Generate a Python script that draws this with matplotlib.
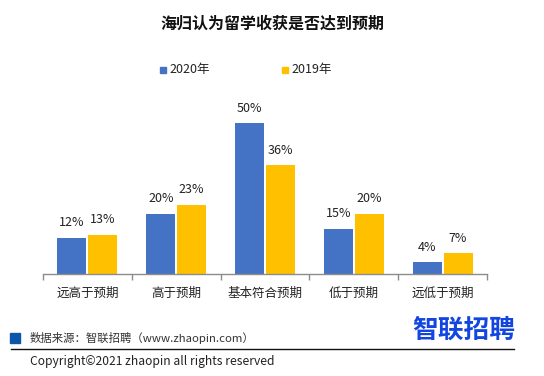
import matplotlib
matplotlib.use("Agg")
import matplotlib.pyplot as plt
import numpy as np

plt.rcParams['font.family'] = ['Noto Sans CJK SC', 'DejaVu Sans']

# data
categories = ['远高于预期', '高于预期', '基本符合预期', '低于预期', '远低于预期']
series_names = ['2020年', '2019年']
vals_2020 = [12, 20, 50, 15, 4]
vals_2019 = [13, 23, 36, 20, 7]
colors = ['#4472C4', '#FFC000']

W, H = 544, 376
fig = plt.figure(figsize=(W / 100, H / 100), dpi=100)

# plot area: x 43..487, y 100..274 (pixels from top)
ax = fig.add_axes([43 / W, (H - 274) / H, (487 - 43) / W, (274 - 100) / H])

x = np.arange(len(categories))
bw = 0.326
off = 0.174
b1 = ax.bar(x - off, vals_2020, bw, color=colors[0])
b2 = ax.bar(x + off, vals_2019, bw, color=colors[1])

for bars, vals in ((b1, vals_2020), (b2, vals_2019)):
    for rect, v in zip(bars, vals):
        ax.annotate(f'{v}%', (rect.get_x() + rect.get_width() / 2, v),
                    xytext=(0, 6), textcoords='offset points',
                    ha='center', va='bottom', fontsize=9, color='#222222')

ax.set_xlim(-0.5, len(categories) - 0.5)
ax.set_ylim(0, 57.6)
ax.set_yticks([])
for s in ['top', 'right', 'left']:
    ax.spines[s].set_visible(False)
ax.spines['bottom'].set_color('#8c8c8c')
ax.spines['bottom'].set_linewidth(1)

# category ticks on boundaries
ax.set_xticks(np.arange(len(categories) + 1) - 0.5)
ax.set_xticklabels([])
ax.tick_params(axis='x', length=4, color='#8c8c8c', width=1, direction='out')
for i, c in enumerate(categories):
    ax.text(i, -0.11, c, transform=ax.get_xaxis_transform(),
            ha='center', va='center', fontsize=9, color='#222222')

# title
fig.text(272 / W, 1 - 24 / H, '海归认为留学收获是否达到预期',
         ha='center', va='center', fontsize=11.5, fontweight='bold', color='#111111')

# legend
for (px, name, col) in ((160, series_names[0], colors[0]), (282, series_names[1], colors[1])):
    fig.patches.append(plt.Rectangle((px / W, 1 - 73 / H), 6 / W, 6 / H,
                                     transform=fig.transFigure, color=col))
    fig.text((px + 9) / W, 1 - 70 / H, name, ha='left', va='center',
             fontsize=9, color='#222222')

# footer
fig.patches.append(plt.Rectangle((10 / W, 1 - 343 / H), 10 / W, 10 / H,
                                 transform=fig.transFigure, color='#0B56A8'))
fig.text(30 / W, 1 - 338 / H, '数据来源：智联招聘（www.zhaopin.com）',
         ha='left', va='center', fontsize=8.2, color='#333333')
fig.lines.append(plt.Line2D([11 / W, 514 / W], [1 - 349 / H, 1 - 349 / H],
                            transform=fig.transFigure, color='#111111', lw=1))
fig.text(30 / W, 1 - 361 / H, 'Copyright©2021 zhaopin all rights reserved',
         ha='left', va='center', fontsize=8.7, color='#222222')
fig.text(515 / W, 1 - 330 / H, '智联招聘', ha='right', va='center',
         fontsize=18.5, fontweight='bold', color='#1346E0')

fig.savefig('out.png', dpi=100)
